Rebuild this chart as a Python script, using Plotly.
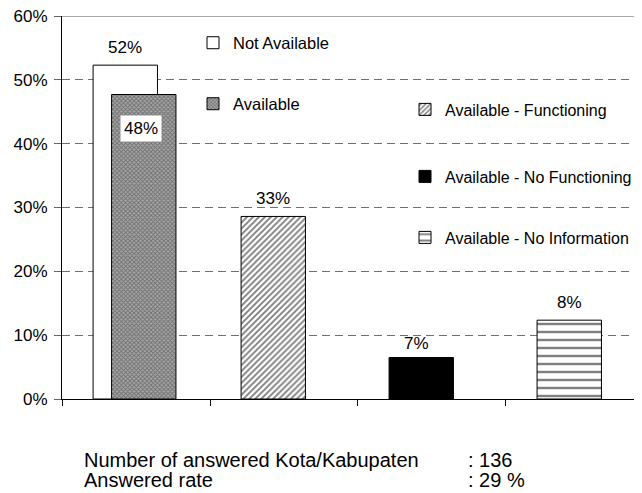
import plotly.graph_objects as go

series_names = ["Not Available", "Available", "Available - Functioning",
                "Available - No Functioning", "Available - No Information"]
series_cat = [0, 0, 1, 2, 3]
bar_values = [52.3, 47.7, 28.6, 6.5, 12.35]
label_text = ["52%", "48%", "33%", "7%", "8%"]
y_ticks = [0, 10, 20, 30, 40, 50, 60]
y_tick_labels = ["0%", "10%", "20%", "30%", "40%", "50%", "60%"]
summary_labels = ["Number of answered Kota/Kabupaten", "Answered rate"]
summary_values = [": 136", ": 29 %"]

# page body has an 8px margin -> figure is drawn 8px right/down in the window
W, H = 634, 485
ML, MT, PW, PH = 54, 8, 580, 383

offsets = [-0.29, -0.165, -0.29, -0.29, -0.29]
width = 0.435
styles = [
    dict(color="white", pattern=dict(shape="")),
    dict(color="#8c8c8c", pattern=dict(shape="x", fgcolor="#333333", bgcolor="#a8a8a8", size=3, solidity=0.5)),
    dict(color="white", pattern=dict(shape="/", fgcolor="#000000", bgcolor="white", size=4.2, solidity=0.45)),
    dict(color="black", pattern=dict(shape="")),
    dict(color="white", pattern=dict(shape="-", fgcolor="#000000", bgcolor="white", size=8, solidity=0.3)),
]


def py(wy):  # window y pixel -> paper y
    return 1 - (wy - 16) / PH


def px(wx):  # window x pixel -> paper x
    return (wx - 62) / PW


legend_pos = [(px(193), py(43 - 17.5)), (px(193), py(104 - 17.5)),
              (px(405), py(110 - 17.5)), (px(405), py(177 - 17.5)),
              (px(405), py(238 - 17.5))]
legend_font = [16.5, 16.5, 16, 16, 16]

fig = go.Figure()
for i, name in enumerate(series_names):
    m = dict(styles[i])
    m["line"] = dict(color="black", width=1)
    fig.add_trace(go.Bar(
        x=[series_cat[i]], y=[bar_values[i]], name=name,
        width=width, offset=offsets[i], marker=m,
        legend="legend" if i == 0 else f"legend{i+1}",
        hoverinfo="skip",
    ))

ann = []
for i in range(len(series_names)):
    xc = series_cat[i] + offsets[i] + width / 2
    if i == 1:
        ann.append(dict(x=xc, y=bar_values[i], text=label_text[i], showarrow=False,
                        yanchor="middle", yshift=-34, xshift=-3, bgcolor="white",
                        font=dict(size=17, color="black"), borderpad=3))
    else:
        ann.append(dict(x=xc, y=bar_values[i], text=label_text[i], showarrow=False,
                        yanchor="middle", yshift=18 if i != 3 else 14,
                        xshift=-5 if i == 3 else 0,
                        font=dict(size=17, color="black")))

row_y = [459.5, 480.5]
for j in range(2):
    ann.append(dict(xref="paper", yref="paper", x=px(82), y=py(row_y[j]),
                    text=summary_labels[j], showarrow=False, xanchor="left", yanchor="middle",
                    font=dict(size=20, color="black")))
    ann.append(dict(xref="paper", yref="paper", x=px(466), y=py(row_y[j]),
                    text=summary_values[j], showarrow=False, xanchor="left", yanchor="middle",
                    font=dict(size=20, color="black")))

layout_legends = {}
for i, (lx, ly) in enumerate(legend_pos):
    key = "legend" if i == 0 else f"legend{i+1}"
    layout_legends[key] = dict(x=lx, y=ly, xanchor="left", yanchor="top",
                               bgcolor="rgba(0,0,0,0)",
                               font=dict(size=legend_font[i], color="black"))

fig.update_layout(
    width=W, height=H,
    margin=dict(l=ML, r=0, t=MT, b=H - MT - PH, pad=0),
    paper_bgcolor="white", plot_bgcolor="white",
    barmode="overlay",
    font=dict(family="Liberation Sans, Arial, sans-serif", size=16, color="black"),
    annotations=ann,
    showlegend=True,
    shapes=[dict(type="line", xref="paper", yref="y", x0=0, x1=1, y0=60, y1=60,
                 line=dict(color="#555555", width=1), layer="above")],
    **layout_legends,
)
fig.update_xaxes(range=[-0.5, 3.419], showgrid=False, zeroline=False,
                 tickvals=[-0.5, 0.5, 1.5, 2.5], ticks="outside", ticklen=6,
                 tickcolor="black", showticklabels=False, showline=True,
                 linecolor="black", linewidth=1, automargin=False)
fig.update_yaxes(range=[0, 60], tickvals=y_ticks, ticktext=y_tick_labels, ticks="outside",
                 ticklen=7, tickcolor="#666666", showline=True, linecolor="black", linewidth=1,
                 showgrid=True, gridcolor="#707070", griddash="8px,5px", gridwidth=1,
                 zeroline=False, tickfont=dict(size=17), automargin=False,
                 ticklabeloverflow="allow", ticklabelstandoff=3)

fig.write_html("out.html")
